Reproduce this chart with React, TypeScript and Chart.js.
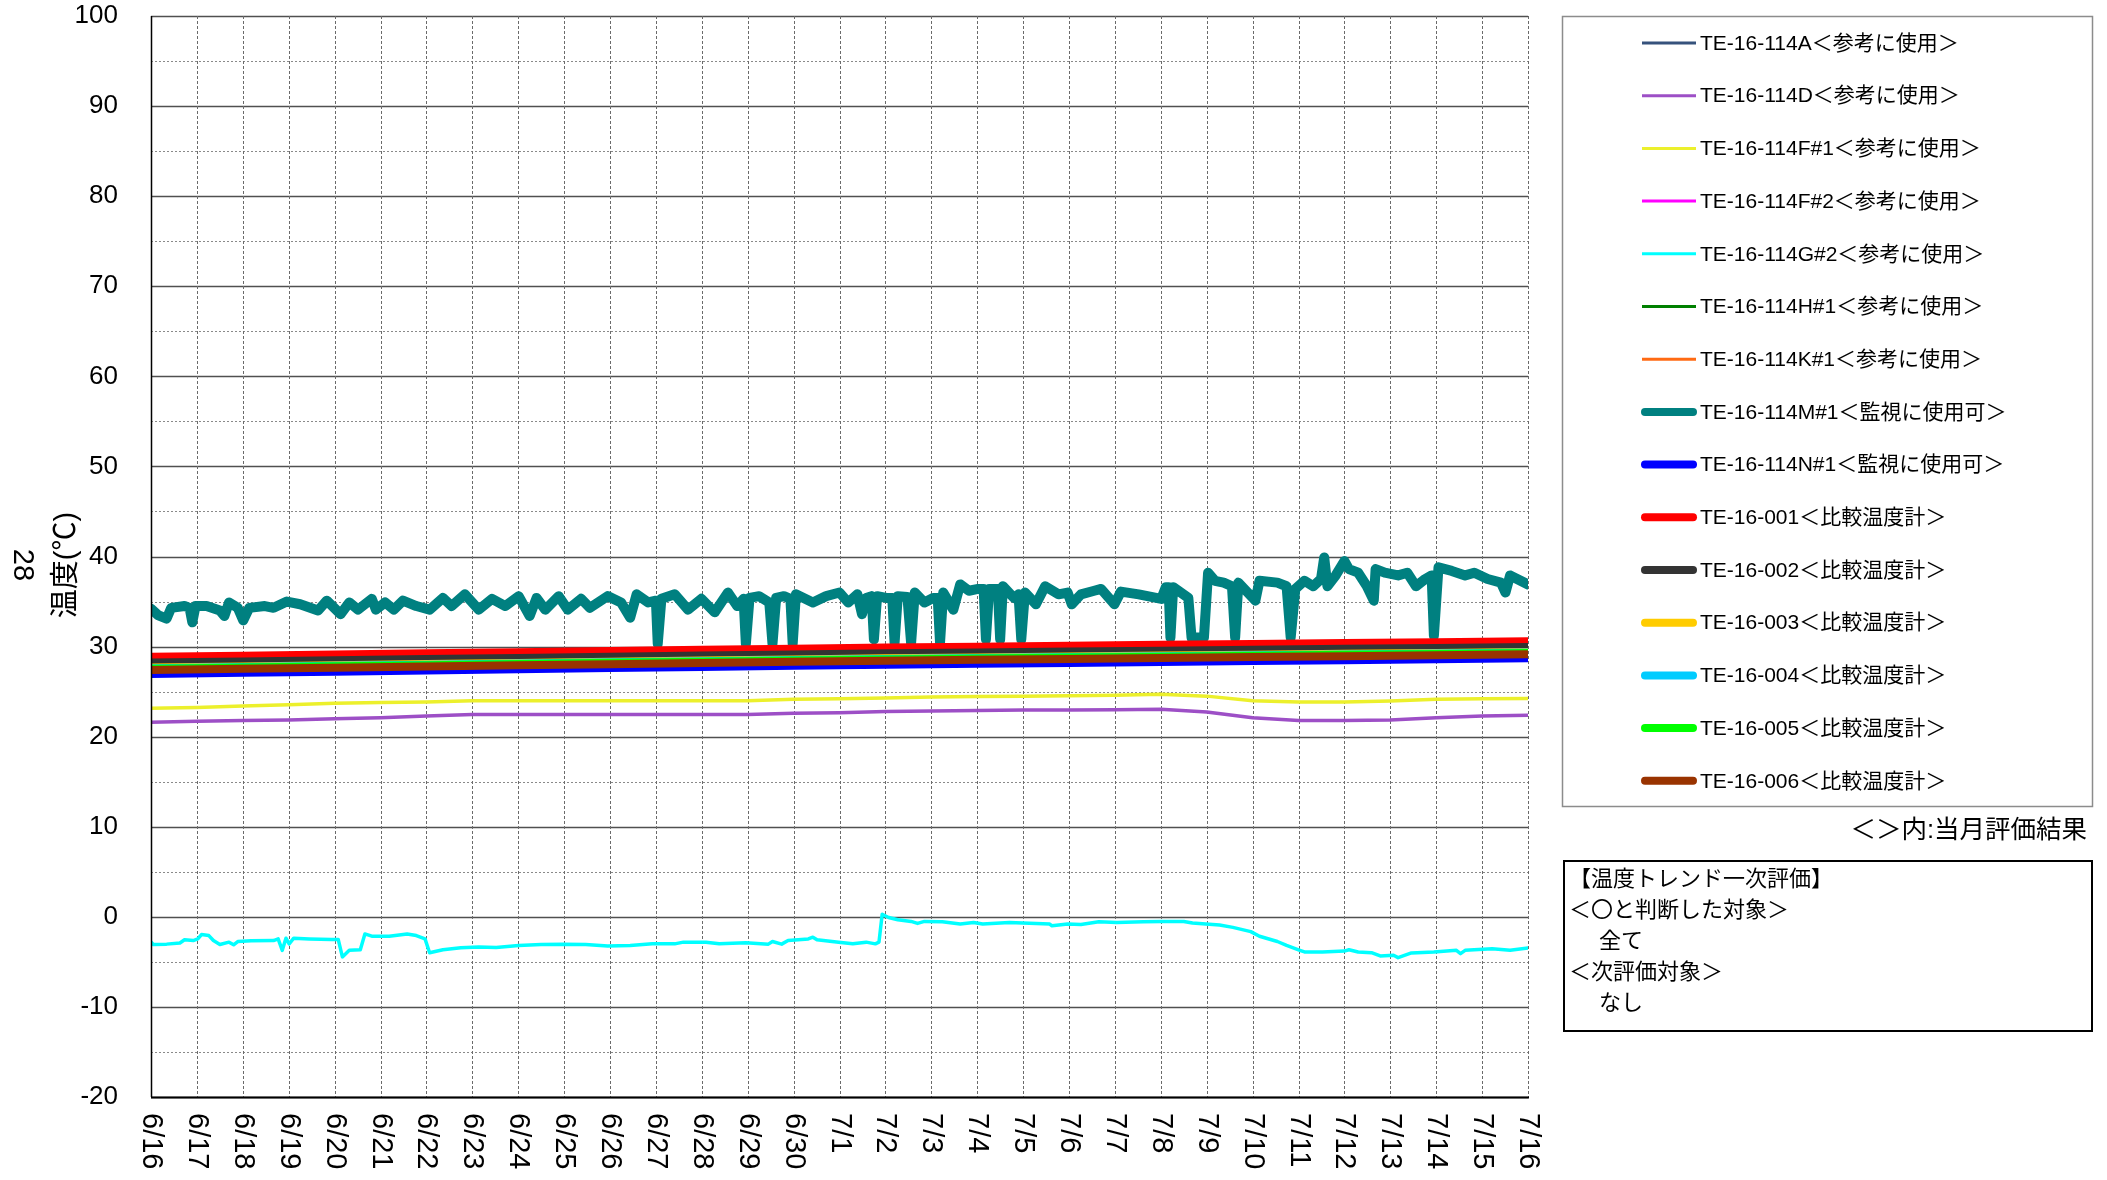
import React, { useEffect, useRef } from 'react';
import { Chart, registerables } from 'chart.js';

Chart.register(...registerables);

// ---------- tick labels ----------
const X_TICK_LABELS = [
  '6/16', '6/17', '6/18', '6/19', '6/20', '6/21', '6/22', '6/23', '6/24', '6/25', '6/26',
  '6/27', '6/28', '6/29', '6/30', '7/1', '7/2', '7/3', '7/4', '7/5', '7/6', '7/7', '7/8',
  '7/9', '7/10', '7/11', '7/12', '7/13', '7/14', '7/15', '7/16',
];
const Y_MIN = -20;
const Y_MAX = 100;
const Y_STEP = 10;

// ---------- day grids (days since 6/16) ----------
const DAYS_2 = [0, 2, 4, 6, 8, 10, 12, 14, 16, 18, 20, 22, 24, 26, 28, 30];
const DAYS_1 = [0, 1, 2, 3, 4, 5, 6, 7, 8, 9, 10, 11, 12, 13, 14, 15, 16, 17, 18, 19, 20, 21, 22, 23, 24, 25, 26, 27, 28, 29, 30];

// ---------- series values ----------
const A_VALS = [27.6, 27.7, 27.85, 27.95, 28.1, 28.2, 28.3, 28.4, 28.5, 28.6, 28.7, 28.8, 28.9, 29.0, 29.05, 29.15];
const D_VALS = [21.6, 21.7, 21.8, 21.85, 22.0, 22.1, 22.3, 22.45, 22.45, 22.45, 22.45, 22.45, 22.45, 22.45, 22.6, 22.65,
  22.8, 22.85, 22.9, 22.95, 22.95, 23.0, 23.05, 22.75, 22.1, 21.8, 21.8, 21.85, 22.1, 22.3, 22.37];
const F1_VALS = [23.15, 23.25, 23.4, 23.55, 23.7, 23.8, 23.85, 24.0, 24.0, 24.0, 24.0, 24.0, 24.0, 24.0, 24.15, 24.2,
  24.3, 24.4, 24.45, 24.5, 24.55, 24.6, 24.7, 24.5, 24.0, 23.85, 23.85, 23.95, 24.15, 24.2, 24.25];
const F2_VALS = [28.0, 28.1, 28.25, 28.35, 28.5, 28.6, 28.7, 28.8, 28.9, 29.0, 29.1, 29.2, 29.3, 29.4, 29.45, 29.55];
const G2_DAYS = [0, 0.05, 0.34, 0.63, 0.73, 0.92, 1.02, 1.1, 1.26, 1.36, 1.5, 1.7, 1.8, 1.89, 2.18, 2.67, 2.77, 2.86, 2.94,
  3.01, 3.11, 3.45, 3.93, 4.08, 4.17, 4.32, 4.56, 4.66, 4.81, 5.19, 5.58, 5.78, 5.97, 6.07, 6.36, 6.75, 7.14, 7.52, 8.01,
  8.5, 8.98, 9.47, 9.95, 10.44, 10.92, 11.41, 11.6, 12.09, 12.38, 12.96, 13.45, 13.54, 13.74, 13.88, 14.32, 14.42, 14.51,
  14.98, 15.29, 15.58, 15.78, 15.86, 15.93, 16.07, 16.27, 16.56, 16.7, 16.85, 17.24, 17.63, 17.92, 18.12, 18.7, 18.99,
  19.58, 19.63, 19.97, 20.26, 20.65, 21.04, 21.62, 22.01, 22.5, 22.69, 22.98, 23.28, 23.57, 23.96, 24.15, 24.54, 24.74,
  25.03, 25.13, 25.52, 26.0, 26.1, 26.3, 26.59, 26.78, 27.07, 27.17, 27.46, 27.95, 28.44, 28.53, 28.63, 29.22, 29.61, 30];
const G2_VALS = [-2.8, -3.07, -3.03, -2.9, -2.55, -2.63, -2.45, -1.97, -2.08, -2.63, -3.07, -2.81, -3.1, -2.74, -2.66, -2.63,
  -2.45, -3.72, -2.37, -3.0, -2.37, -2.45, -2.52, -2.52, -4.45, -3.72, -3.65, -1.9, -2.15, -2.15, -1.9, -2.08, -2.45, -3.98,
  -3.65, -3.43, -3.36, -3.4, -3.18, -3.07, -3.03, -3.07, -3.25, -3.18, -3.0, -3.0, -2.81, -2.81, -3.0, -2.88, -3.03, -2.74,
  -3.03, -2.63, -2.45, -2.26, -2.55, -2.81, -3.0, -2.81, -3.0, -2.81, 0.29, -0.07, -0.33, -0.51, -0.73, -0.51, -0.55, -0.8,
  -0.62, -0.8, -0.62, -0.69, -0.8, -1.0, -0.8, -0.84, -0.55, -0.62, -0.55, -0.51, -0.51, -0.69, -0.8, -0.91, -1.17, -1.64,
  -2.15, -2.74, -3.18, -3.72, -3.9, -3.9, -3.8, -3.65, -3.9, -3.98, -4.34, -4.27, -4.53, -4.01, -3.9, -3.72, -4.08, -3.72,
  -3.54, -3.72, -3.47];
const H1_VALS = [27.7, 27.8, 27.95, 28.05, 28.2, 28.3, 28.4, 28.5, 28.6, 28.7, 28.8, 28.9, 29.0, 29.1, 29.2, 29.3];
const K1_VALS = [27.5, 27.6, 27.75, 27.85, 28.0, 28.1, 28.2, 28.3, 28.4, 28.5, 28.6, 28.7, 28.8, 28.9, 29.0, 29.1];
const M1_DAYS = [0, 0.15, 0.34, 0.44, 0.73, 0.84, 0.9, 0.97, 1.21, 1.5, 1.6, 1.7, 1.89, 2.01, 2.14, 2.48, 2.67, 2.96, 3.25,
  3.64, 3.83, 4.13, 4.32, 4.51, 4.81, 4.9, 5.1, 5.29, 5.49, 5.78, 6.07, 6.36, 6.55, 6.84, 7.14, 7.43, 7.72, 8.01, 8.25,
  8.4, 8.59, 8.88, 9.08, 9.37, 9.56, 9.95, 10.24, 10.44, 10.58, 10.83, 11.0, 11.04, 11.12, 11.41, 11.7, 11.99, 12.28,
  12.57, 12.77, 12.91, 12.96, 13.04, 13.25, 13.47, 13.54, 13.62, 13.79, 13.93, 13.98, 14.05, 14.42, 14.71, 15.0, 15.19,
  15.39, 15.49, 15.58, 15.7, 15.75, 15.82, 16.02, 16.15, 16.2, 16.27, 16.48, 16.56, 16.64, 16.85, 17.04, 17.14, 17.19,
  17.26, 17.48, 17.63, 17.82, 18.02, 18.14, 18.19, 18.26, 18.45, 18.5, 18.56, 18.8, 18.9, 18.96, 19.04, 19.28, 19.48,
  19.77, 19.97, 20.06, 20.26, 20.55, 20.7, 20.99, 21.13, 21.52, 22.01, 22.11, 22.17, 22.21, 22.27, 22.6, 22.67, 22.94,
  23.03, 23.18, 23.37, 23.55, 23.62, 23.69, 24.06, 24.15, 24.54, 24.74, 24.83, 24.93, 25.13, 25.32, 25.49, 25.56, 25.63,
  25.81, 26.0, 26.1, 26.3, 26.49, 26.64, 26.68, 26.88, 27.17, 27.37, 27.56, 27.76, 27.9, 27.95, 28.05, 28.34, 28.63,
  28.83, 29.12, 29.41, 29.51, 29.61, 30];
const M1_VALS = [34.2, 33.5, 33.1, 34.3, 34.5, 34.3, 32.7, 34.5, 34.5, 34.0, 33.4, 34.9, 34.3, 32.9, 34.3, 34.5, 34.3, 35.0,
  34.7, 34.0, 35.1, 33.6, 34.9, 34.1, 35.3, 34.1, 34.9, 34.1, 35.1, 34.5, 34.1, 35.4, 34.5, 35.8, 34.1, 35.3, 34.5, 35.6,
  33.4, 35.4, 34.1, 35.6, 34.1, 35.3, 34.3, 35.6, 34.9, 33.2, 35.8, 34.9, 35.1, 30.3, 35.3, 35.8, 34.1, 35.3, 33.8, 36.0,
  34.5, 35.3, 30.3, 35.4, 35.6, 34.9, 30.3, 35.4, 35.6, 35.3, 30.3, 35.8, 34.9, 35.6, 36.0, 34.9, 35.8, 33.6, 35.4, 35.6,
  30.8, 35.6, 35.4, 35.4, 30.4, 35.6, 35.5, 30.4, 36.0, 34.9, 35.4, 35.4, 30.4, 36.0, 34.1, 36.9, 36.2, 36.4, 36.4, 30.8,
  36.4, 36.4, 30.8, 36.7, 35.4, 35.8, 30.8, 36.0, 34.7, 36.7, 35.8, 36.0, 34.7, 35.8, 36.2, 36.4, 34.7, 36.1, 35.8, 35.3,
  36.6, 36.6, 31.0, 36.6, 35.4, 31.0, 31.0, 38.2, 37.3, 37.1, 36.7, 31.0, 37.1, 35.1, 37.3, 37.1, 36.7, 31.0, 36.4, 37.3,
  36.7, 37.5, 39.9, 36.7, 37.9, 39.5, 38.6, 38.2, 36.7, 35.1, 38.6, 38.2, 37.9, 38.2, 36.7, 37.5, 37.9, 31.2, 38.8, 38.4,
  37.9, 38.2, 37.5, 37.1, 36.0, 37.9, 36.9];
const N1_VALS = [26.96, 27.09, 27.22, 27.35, 27.48, 27.61, 27.74, 27.87, 27.99, 28.09, 28.19, 28.29, 28.39, 28.49, 28.59, 28.7];
const T001_VALS = [28.86, 28.99, 29.12, 29.25, 29.38, 29.51, 29.64, 29.77, 29.89, 29.99, 30.09, 30.19, 30.29, 30.39, 30.49, 30.6];
const T002_VALS = [28.22, 28.35, 28.48, 28.61, 28.74, 28.87, 29.0, 29.13, 29.25, 29.35, 29.45, 29.55, 29.65, 29.75, 29.85, 29.96];
const T003_VALS = [27.67, 27.8, 27.93, 28.06, 28.19, 28.32, 28.45, 28.58, 28.7, 28.8, 28.9, 29.0, 29.1, 29.2, 29.3, 29.41];
const T004_VALS = [27.6, 27.73, 27.86, 27.99, 28.12, 28.25, 28.38, 28.51, 28.63, 28.73, 28.83, 28.93, 29.03, 29.13, 29.23, 29.34];
const T005_VALS = [27.55, 27.68, 27.81, 27.94, 28.07, 28.2, 28.33, 28.46, 28.58, 28.68, 28.78, 28.88, 28.98, 29.08, 29.18, 29.29];
const T006_VALS = [27.4, 27.53, 27.66, 27.79, 27.92, 28.05, 28.18, 28.31, 28.43, 28.53, 28.63, 28.73, 28.83, 28.93, 29.03, 29.14];

// ---------- series table (labels, colours, widths) ----------
const SERIES = [
  { label: 'TE-16-114A＜参考に使用＞', color: '#36527c', thick: false, days: DAYS_2, vals: A_VALS },
  { label: 'TE-16-114D＜参考に使用＞', color: '#9d4fc6', thick: false, days: DAYS_1, vals: D_VALS },
  { label: 'TE-16-114F#1＜参考に使用＞', color: '#ecf02c', thick: false, days: DAYS_1, vals: F1_VALS },
  { label: 'TE-16-114F#2＜参考に使用＞', color: '#ff00ff', thick: false, days: DAYS_2, vals: F2_VALS },
  { label: 'TE-16-114G#2＜参考に使用＞', color: '#00ffff', thick: false, days: G2_DAYS, vals: G2_VALS },
  { label: 'TE-16-114H#1＜参考に使用＞', color: '#008000', thick: false, days: DAYS_2, vals: H1_VALS },
  { label: 'TE-16-114K#1＜参考に使用＞', color: '#ff6a13', thick: false, days: DAYS_2, vals: K1_VALS },
  { label: 'TE-16-114M#1＜監視に使用可＞', color: '#008080', thick: true, days: M1_DAYS, vals: M1_VALS },
  { label: 'TE-16-114N#1＜監視に使用可＞', color: '#0000ff', thick: true, days: DAYS_2, vals: N1_VALS },
  { label: 'TE-16-001＜比較温度計＞', color: '#ff0000', thick: true, days: DAYS_2, vals: T001_VALS },
  { label: 'TE-16-002＜比較温度計＞', color: '#333333', thick: true, days: DAYS_2, vals: T002_VALS },
  { label: 'TE-16-003＜比較温度計＞', color: '#ffcc00', thick: true, days: DAYS_2, vals: T003_VALS },
  { label: 'TE-16-004＜比較温度計＞', color: '#00ccff', thick: true, days: DAYS_2, vals: T004_VALS },
  { label: 'TE-16-005＜比較温度計＞', color: '#00ff00', thick: true, days: DAYS_2, vals: T005_VALS },
  { label: 'TE-16-006＜比較温度計＞', color: '#993300', thick: true, days: DAYS_2, vals: T006_VALS },
];

const Y_TITLE = '温度(℃)';
const SIDE_NUMBER = '28';
const LEGEND_NOTE = '＜＞内:当月評価結果';
const EVAL_LINES = ['【温度トレンド一次評価】', '＜〇と判断した対象＞', '全て', '＜次評価対象＞', 'なし'];
const EVAL_INDENT = [false, false, true, false, true];

const FONT = '"Liberation Sans", "Noto Sans CJK JP", sans-serif';
const W = 2107;
const H = 1180;
const PLOT_LEFT = 151;
const PLOT_RIGHT = 1528;
const PLOT_TOP = 16;
const PLOT_BOTTOM = 1097;

const decorPlugin = {
  id: 'decor',
  beforeDatasetsDraw(chart: any) {
    const { ctx, chartArea: a, scales } = chart;
    const x = scales.x;
    const y = scales.y;
    ctx.save();
    // horizontal grid
    for (let v = Y_MIN; v <= Y_MAX; v += Y_STEP / 2) {
      const py = Math.round(y.getPixelForValue(v)) + 0.5;
      ctx.beginPath();
      if (v % Y_STEP === 0) {
        ctx.setLineDash([]);
        ctx.strokeStyle = '#505050';
        ctx.lineWidth = 1.4;
      } else {
        ctx.setLineDash([2, 2]);
        ctx.strokeStyle = '#8a8a8a';
        ctx.lineWidth = 1;
      }
      ctx.moveTo(a.left, py);
      ctx.lineTo(a.right, py);
      ctx.stroke();
    }
    // vertical grid
    ctx.setLineDash([3, 2]);
    ctx.strokeStyle = '#6a6a6a';
    ctx.lineWidth = 1;
    for (let i = 1; i < X_TICK_LABELS.length; i++) {
      const px = Math.round(x.getPixelForValue(i)) + 0.5;
      ctx.beginPath();
      ctx.moveTo(px, a.top);
      ctx.lineTo(px, a.bottom);
      ctx.stroke();
    }
    ctx.restore();
  },
  afterDatasetsDraw(chart: any) {
    const { ctx, chartArea: a } = chart;
    ctx.save();
    ctx.setLineDash([]);
    ctx.strokeStyle = '#000';
    ctx.lineWidth = 1.5;
    ctx.beginPath();
    ctx.moveTo(a.left + 0.5, a.top);
    ctx.lineTo(a.left + 0.5, a.bottom);
    ctx.stroke();
    ctx.lineWidth = 2;
    ctx.beginPath();
    ctx.moveTo(a.left, a.bottom + 0.5);
    ctx.lineTo(a.right + 1, a.bottom + 0.5);
    ctx.stroke();
    ctx.restore();
  },
  afterDraw(chart: any) {
    const { ctx, chartArea: a, scales } = chart;
    const x = scales.x;
    ctx.save();
    ctx.fillStyle = '#000';

    // x tick labels, rotated clockwise
    ctx.font = `29px ${FONT}`;
    ctx.textAlign = 'left';
    ctx.textBaseline = 'middle';
    X_TICK_LABELS.forEach((lab, i) => {
      const px = x.getPixelForValue(i);
      ctx.save();
      ctx.translate(px, a.bottom + 16);
      ctx.rotate(Math.PI / 2);
      ctx.fillText(lab, 0, 0);
      ctx.restore();
    });

    // y title
    ctx.save();
    ctx.font = `29px ${FONT}`;
    ctx.textAlign = 'center';
    ctx.textBaseline = 'middle';
    ctx.translate(67, 565);
    ctx.rotate(-Math.PI / 2);
    ctx.fillText(Y_TITLE, 0, 0);
    ctx.restore();

    // side number
    ctx.save();
    ctx.font = `29px ${FONT}`;
    ctx.textAlign = 'center';
    ctx.textBaseline = 'middle';
    ctx.translate(22, 565);
    ctx.rotate(Math.PI / 2);
    ctx.fillText(SIDE_NUMBER, 0, 0);
    ctx.restore();

    // legend box
    const lx0 = 1562, ly0 = 16, lx1 = 2092, ly1 = 806;
    ctx.strokeStyle = '#8c8c8c';
    ctx.lineWidth = 1.5;
    ctx.strokeRect(lx0 + 0.5, ly0 + 0.5, lx1 - lx0, ly1 - ly0);
    const ds = chart.data.datasets;
    ds.forEach((d: any, i: number) => {
      const ry = 43 + i * 52.7;
      const s = SERIES[i];
      ctx.beginPath();
      ctx.strokeStyle = d.borderColor;
      if (s.thick) {
        ctx.lineWidth = 8;
        ctx.lineCap = 'round';
        ctx.moveTo(1645, ry);
        ctx.lineTo(1693, ry);
      } else {
        ctx.lineWidth = 3;
        ctx.lineCap = 'butt';
        ctx.moveTo(1642, ry);
        ctx.lineTo(1696, ry);
      }
      ctx.stroke();
      ctx.fillStyle = '#000';
      ctx.font = `21px ${FONT}`;
      ctx.textAlign = 'left';
      ctx.textBaseline = 'middle';
      ctx.fillText(d.label, 1700, ry + 1);
    });

    // legend note
    ctx.font = `25.5px ${FONT}`;
    ctx.textAlign = 'right';
    ctx.textBaseline = 'middle';
    ctx.fillText(LEGEND_NOTE, 2087, 831);

    // evaluation box
    ctx.lineCap = 'butt';
    ctx.strokeStyle = '#000';
    ctx.lineWidth = 2;
    ctx.strokeRect(1564, 861, 528, 170);
    ctx.font = `22px ${FONT}`;
    ctx.textAlign = 'left';
    ctx.textBaseline = 'middle';
    EVAL_LINES.forEach((t, i) => {
      ctx.fillText(t, EVAL_INDENT[i] ? 1599 : 1569, 880 + i * 31);
    });
    ctx.restore();
  },
};

export default function App() {
  const ref = useRef<HTMLCanvasElement>(null);
  useEffect(() => {
    const canvas = ref.current;
    if (!canvas) return;
    const n = SERIES.length;
    const chart = new Chart(canvas, {
      type: 'line',
      data: {
        datasets: SERIES.map((s, i) => ({
          label: s.label,
          data: s.days.map((d, j) => ({ x: d, y: s.vals[j] })),
          borderColor: s.color,
          backgroundColor: s.color,
          borderWidth: s.label.includes('M#1') ? 10 : s.thick ? 8 : 3.5,
          pointRadius: 0,
          tension: 0,
          fill: false,
          borderJoinStyle: 'round',
          borderCapStyle: 'round',
          order: n - i,
        })),
      },
      options: {
        responsive: false,
        animation: false,
        devicePixelRatio: 1,
        layout: { padding: { left: 0, right: W - PLOT_RIGHT, top: PLOT_TOP, bottom: H - PLOT_BOTTOM } },
        plugins: { legend: { display: false }, tooltip: { enabled: false } },
        scales: {
          x: {
            type: 'linear',
            min: 0,
            max: X_TICK_LABELS.length - 1,
            ticks: { display: false, stepSize: 1 },
            grid: { display: false, drawTicks: false },
            border: { display: false },
            afterFit: (s: any) => {
              s.height = 0;
              s.paddingLeft = 0;
              s.paddingRight = 0;
              s.paddingTop = 0;
              s.paddingBottom = 0;
            },
          },
          y: {
            type: 'linear',
            min: Y_MIN,
            max: Y_MAX,
            ticks: {
              stepSize: Y_STEP,
              color: '#000',
              padding: 33,
              font: { size: 26, family: FONT },
            },
            grid: { display: false, drawTicks: false },
            border: { display: false },
            afterFit: (s: any) => {
              s.width = PLOT_LEFT;
              s.paddingTop = 0;
              s.paddingBottom = 0;
              s.paddingLeft = 0;
              s.paddingRight = 0;
            },
          },
        },
      },
      plugins: [decorPlugin],
    } as any);
    return () => chart.destroy();
  }, []);
  return (
    <div style={{ position: 'fixed', left: 0, top: 0, width: W, height: H, background: '#fff' }}>
      <canvas ref={ref} width={W} height={H} style={{ width: W, height: H, display: 'block' }} />
    </div>
  );
}
